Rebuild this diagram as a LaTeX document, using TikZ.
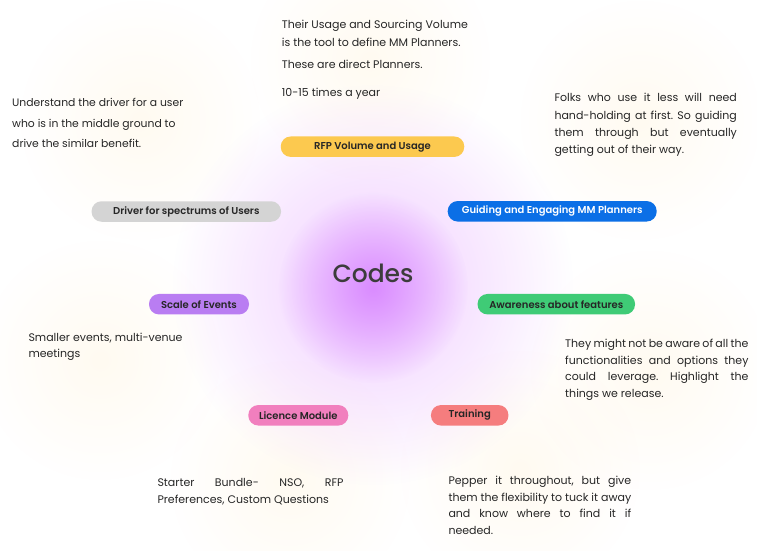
\documentclass[tikz,border=0pt]{standalone}
\usepackage{fontspec}
\setmainfont{Poppins}
\newfontfamily\pillfont{Poppins SemiBold}
\newfontfamily\titlefont{Poppins Medium}
\usetikzlibrary{fadings}
\frenchspacing

\definecolor{ink}{HTML}{262626}
\definecolor{pillyellow}{HTML}{FCC94F}
\definecolor{pillgray}{HTML}{D4D4D4}
\definecolor{pillblue}{HTML}{0B6FE6}
\definecolor{pillpurple}{HTML}{B97DF2}
\definecolor{pillgreen}{HTML}{3FCB76}
\definecolor{pillpink}{HTML}{F17FBE}
\definecolor{pillcoral}{HTML}{F57D7E}
\definecolor{glowpurple}{HTML}{DA8CFF}
\definecolor{glowlilac}{HTML}{F0CCFF}
\definecolor{glowcream}{HTML}{FFF4DC}

\tikzfading[name=softglow, inner color=transparent!0, outer color=transparent!100]

% one justified line of a given width
\newcommand\jline[2]{\makebox[#1][s]{#2}}

\tikzset{
  pill/.style={rounded corners=10pt, inner sep=0pt, minimum height=20.5pt,
    font=\fontsize{10}{11}\pillfont, text=ink},
  note/.style={inner sep=0pt, anchor=north west, align=left, text=ink,
    font=\fontsize{11}{17.4}\selectfont},
  glow/.style={path fading=softglow}
}

\begin{document}
\begin{tikzpicture}[x=1pt,y=-1pt]
\useasboundingbox (0,0) rectangle (757,551);
\fill[white] (0,0) rectangle (757,551);

% soft background glows
\foreach \gx/\gy in {370/60, 140/120, 640/120, 100/360, 650/370, 290/480, 520/470}
  \fill[glowcream, glow, opacity=0.4] (\gx,\gy) circle (120pt);
\fill[glowlilac, glow] (373,285) circle (200pt);
\fill[glowpurple, glow] (373,288) circle (95pt);

% centre title
\node[text=ink!90, font=\fontsize{25}{30}\titlefont, inner sep=0pt] (codes) at (373,273) {Codes};

% topic pills
\node[pill, fill=pillyellow, minimum width=183.5pt] (rfp) at (372.5,146.7) {RFP Volume and Usage};
\node[pill, fill=pillgray, minimum width=189.5pt] (driver) at (186.3,211.5) {Driver for spectrums of Users};
\node[pill, fill=pillblue, text=white, minimum width=209pt] (guide) at (552.2,211.3) {Guiding and Engaging MM Planners};
\node[pill, fill=pillpurple, minimum width=100pt] (scale) at (199,304.2) {Scale of Events};
\node[pill, fill=pillgreen, minimum width=157.5pt] (aware) at (556.3,304.2) {Awareness about features};
\node[pill, fill=pillpink, minimum width=100pt] (licence) at (298.3,415.3) {Licence Module};
\node[pill, fill=pillcoral, minimum width=77.5pt] (train) at (469.7,415.3) {Training};

% explanatory notes
\node[note, font=\fontsize{11}{18.4}\selectfont] (rfpnote) at (281.7,19.8)
  {Their Usage and Sourcing Volume\\is the tool to define MM Planners.};
\node[note] (rfpdirect) at (281.7,59.8) {These are direct Planners.};
\node[note] (rfpfreq) at (281.7,88.2) {10-15 times a year};

\node[note, font=\fontsize{10.8}{20.5}\selectfont] (drivernote) at (12,98.5)
  {Understand the driver for a user\\who is in the middle ground to\\drive the similar benefit.};

\node[note] (guidenote) at (554.3,93.2)
  {\jline{182.4pt}{Folks who use it less will need}\\
   \jline{182.4pt}{hand-holding at first. So guiding}\\
   \jline{182.4pt}{them through but eventually}\\
   getting out of their way.};

\node[note, font=\fontsize{11}{15.8}\selectfont] (scalenote) at (28.3,333.2)
  {\jline{154pt}{Smaller events, multi-venue}\\meetings};

\node[note, font=\fontsize{11}{16.7}\selectfont] (awarenote) at (565,338.8)
  {\jline{183.3pt}{They might not be aware of all the}\\
   \jline{183.3pt}{functionalities and options they}\\
   \jline{183.3pt}{could leverage. Highlight the}\\
   things we release.};

\node[note, font=\fontsize{11}{16.7}\selectfont] (licencenote) at (157.3,478.2)
  {\jline{186pt}{Starter Bundle- NSO, RFP}\\Preferences, Custom Questions};

\node[note, font=\fontsize{11}{16.7}\selectfont] (trainnote) at (448.3,475.8)
  {\jline{182.7pt}{Pepper it throughout, but give}\\
   \jline{182.7pt}{them the flexibility to tuck it away}\\
   \jline{182.7pt}{and know where to find it if}\\
   needed.};
\end{tikzpicture}
\end{document}
